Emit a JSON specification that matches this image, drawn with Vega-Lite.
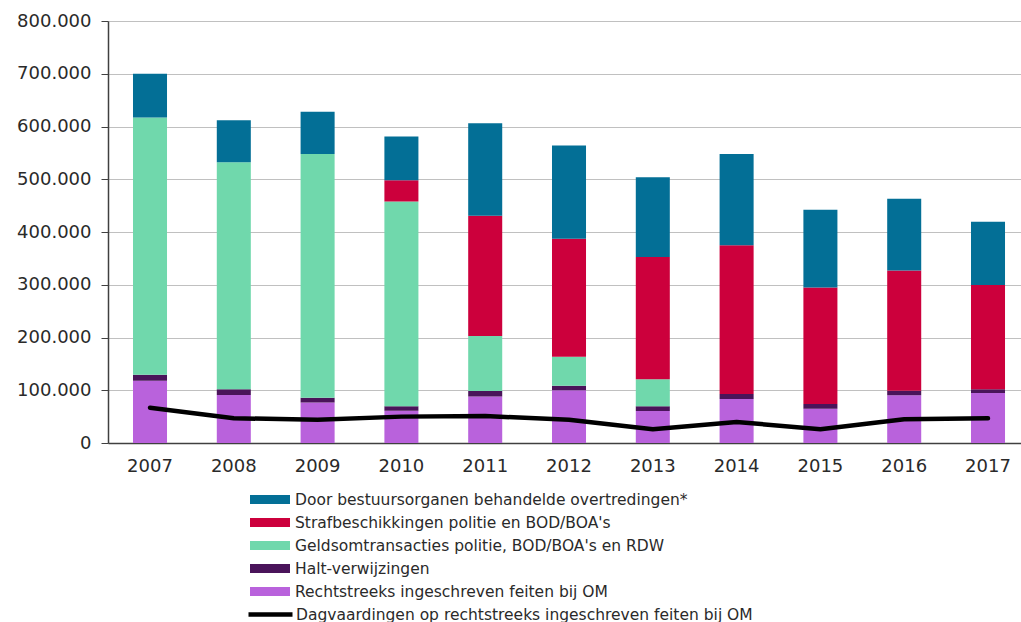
{
  "$schema": "https://vega.github.io/schema/vega-lite/v6.json",
  "width": 913,
  "height": 422,
  "autosize": {"type": "none"},
  "padding": {"left": 108, "top": 21, "right": 0, "bottom": 179},
  "background": "white",
  "config": {
    "view": {"stroke": null},
    "font": "DejaVu Sans",
    "axis": {"labelFont": "DejaVu Sans", "labelColor": "#2a2a2a", "labelFontSize": 18, "titleFontSize": 0},
    "legend": {"labelFont": "DejaVu Sans", "labelColor": "#2a2a2a", "labelFontSize": 15.5, "labelLimit": 0}
  },
  "data": {
    "values": [
      {"jaar": "2007", "serie": "Rechtstreeks ingeschreven feiten bij OM", "waarde": 118000},
      {"jaar": "2007", "serie": "Halt-verwijzingen", "waarde": 11500},
      {"jaar": "2007", "serie": "Geldsomtransacties politie, BOD/BOA's en RDW", "waarde": 487500},
      {"jaar": "2007", "serie": "Door bestuursorganen behandelde overtredingen*", "waarde": 83000},
      {"jaar": "2008", "serie": "Rechtstreeks ingeschreven feiten bij OM", "waarde": 91000},
      {"jaar": "2008", "serie": "Halt-verwijzingen", "waarde": 10700},
      {"jaar": "2008", "serie": "Geldsomtransacties politie, BOD/BOA's en RDW", "waarde": 430300},
      {"jaar": "2008", "serie": "Door bestuursorganen behandelde overtredingen*", "waarde": 80000},
      {"jaar": "2009", "serie": "Rechtstreeks ingeschreven feiten bij OM", "waarde": 77000},
      {"jaar": "2009", "serie": "Halt-verwijzingen", "waarde": 9000},
      {"jaar": "2009", "serie": "Geldsomtransacties politie, BOD/BOA's en RDW", "waarde": 462000},
      {"jaar": "2009", "serie": "Door bestuursorganen behandelde overtredingen*", "waarde": 80000},
      {"jaar": "2010", "serie": "Rechtstreeks ingeschreven feiten bij OM", "waarde": 61000},
      {"jaar": "2010", "serie": "Halt-verwijzingen", "waarde": 8500},
      {"jaar": "2010", "serie": "Geldsomtransacties politie, BOD/BOA's en RDW", "waarde": 388500},
      {"jaar": "2010", "serie": "Strafbeschikkingen politie en BOD/BOA's", "waarde": 40000},
      {"jaar": "2010", "serie": "Door bestuursorganen behandelde overtredingen*", "waarde": 83000},
      {"jaar": "2011", "serie": "Rechtstreeks ingeschreven feiten bij OM", "waarde": 88000},
      {"jaar": "2011", "serie": "Halt-verwijzingen", "waarde": 10600},
      {"jaar": "2011", "serie": "Geldsomtransacties politie, BOD/BOA's en RDW", "waarde": 104400},
      {"jaar": "2011", "serie": "Strafbeschikkingen politie en BOD/BOA's", "waarde": 228000},
      {"jaar": "2011", "serie": "Door bestuursorganen behandelde overtredingen*", "waarde": 175000},
      {"jaar": "2012", "serie": "Rechtstreeks ingeschreven feiten bij OM", "waarde": 100000},
      {"jaar": "2012", "serie": "Halt-verwijzingen", "waarde": 8600},
      {"jaar": "2012", "serie": "Geldsomtransacties politie, BOD/BOA's en RDW", "waarde": 55000},
      {"jaar": "2012", "serie": "Strafbeschikkingen politie en BOD/BOA's", "waarde": 223400},
      {"jaar": "2012", "serie": "Door bestuursorganen behandelde overtredingen*", "waarde": 177000},
      {"jaar": "2013", "serie": "Rechtstreeks ingeschreven feiten bij OM", "waarde": 60700},
      {"jaar": "2013", "serie": "Halt-verwijzingen", "waarde": 8800},
      {"jaar": "2013", "serie": "Geldsomtransacties politie, BOD/BOA's en RDW", "waarde": 51300},
      {"jaar": "2013", "serie": "Strafbeschikkingen politie en BOD/BOA's", "waarde": 231800},
      {"jaar": "2013", "serie": "Door bestuursorganen behandelde overtredingen*", "waarde": 151400},
      {"jaar": "2014", "serie": "Rechtstreeks ingeschreven feiten bij OM", "waarde": 83400},
      {"jaar": "2014", "serie": "Halt-verwijzingen", "waarde": 9600},
      {"jaar": "2014", "serie": "Strafbeschikkingen politie en BOD/BOA's", "waarde": 282000},
      {"jaar": "2014", "serie": "Door bestuursorganen behandelde overtredingen*", "waarde": 173000},
      {"jaar": "2015", "serie": "Rechtstreeks ingeschreven feiten bij OM", "waarde": 65000},
      {"jaar": "2015", "serie": "Halt-verwijzingen", "waarde": 9000},
      {"jaar": "2015", "serie": "Strafbeschikkingen politie en BOD/BOA's", "waarde": 221000},
      {"jaar": "2015", "serie": "Door bestuursorganen behandelde overtredingen*", "waarde": 147000},
      {"jaar": "2016", "serie": "Rechtstreeks ingeschreven feiten bij OM", "waarde": 90400},
      {"jaar": "2016", "serie": "Halt-verwijzingen", "waarde": 8600},
      {"jaar": "2016", "serie": "Strafbeschikkingen politie en BOD/BOA's", "waarde": 228000},
      {"jaar": "2016", "serie": "Door bestuursorganen behandelde overtredingen*", "waarde": 136000},
      {"jaar": "2017", "serie": "Rechtstreeks ingeschreven feiten bij OM", "waarde": 94800},
      {"jaar": "2017", "serie": "Halt-verwijzingen", "waarde": 6900},
      {"jaar": "2017", "serie": "Strafbeschikkingen politie en BOD/BOA's", "waarde": 197800},
      {"jaar": "2017", "serie": "Door bestuursorganen behandelde overtredingen*", "waarde": 120000},
      {"jaar": "2007", "serie": "Dagvaardingen op rechtstreeks ingeschreven feiten bij OM", "waarde": 67000},
      {"jaar": "2008", "serie": "Dagvaardingen op rechtstreeks ingeschreven feiten bij OM", "waarde": 47000},
      {"jaar": "2009", "serie": "Dagvaardingen op rechtstreeks ingeschreven feiten bij OM", "waarde": 44000},
      {"jaar": "2010", "serie": "Dagvaardingen op rechtstreeks ingeschreven feiten bij OM", "waarde": 50000},
      {"jaar": "2011", "serie": "Dagvaardingen op rechtstreeks ingeschreven feiten bij OM", "waarde": 51000},
      {"jaar": "2012", "serie": "Dagvaardingen op rechtstreeks ingeschreven feiten bij OM", "waarde": 44000},
      {"jaar": "2013", "serie": "Dagvaardingen op rechtstreeks ingeschreven feiten bij OM", "waarde": 26000},
      {"jaar": "2014", "serie": "Dagvaardingen op rechtstreeks ingeschreven feiten bij OM", "waarde": 40000},
      {"jaar": "2015", "serie": "Dagvaardingen op rechtstreeks ingeschreven feiten bij OM", "waarde": 26000},
      {"jaar": "2016", "serie": "Dagvaardingen op rechtstreeks ingeschreven feiten bij OM", "waarde": 45000},
      {"jaar": "2017", "serie": "Dagvaardingen op rechtstreeks ingeschreven feiten bij OM", "waarde": 47000}
    ]
  },
  "encoding": {
    "x": {
      "field": "jaar",
      "type": "ordinal",
      "scale": {"paddingInner": 0.594, "paddingOuter": 0.2445, "align": 0.61},
      "axis": {
        "title": null,
        "labelAngle": 0,
        "ticks": false,
        "labelPadding": 14,
        "domainColor": "#404040",
        "domainWidth": 1.5,
        "grid": false
      }
    }
  },
  "layer": [
    {
      "transform": [
        {"filter": "datum.serie != 'Dagvaardingen op rechtstreeks ingeschreven feiten bij OM'"},
        {"calculate": "indexof([\"Rechtstreeks ingeschreven feiten bij OM\", \"Halt-verwijzingen\", \"Geldsomtransacties politie, BOD/BOA's en RDW\", \"Strafbeschikkingen politie en BOD/BOA's\", \"Door bestuursorganen behandelde overtredingen*\"], datum.serie)", "as": "volgorde"}
      ],
      "mark": {"type": "bar"},
      "encoding": {
        "y": {
          "field": "waarde",
          "type": "quantitative",
          "stack": "zero",
          "scale": {"domain": [0, 800000], "nice": false},
          "axis": {
            "title": null,
            "values": [0, 100000, 200000, 300000, 400000, 500000, 600000, 700000, 800000],
            "labelExpr": "replace(format(datum.value, ','), ',', '.')",
            "tickSize": 7,
            "tickColor": "#404040",
            "labelPadding": 10,
            "domainColor": "#404040",
            "domainWidth": 1.5,
            "grid": true,
            "gridColor": "#c0c0c0",
            "gridWidth": 1.2
          }
        },
        "color": {
          "field": "serie",
          "type": "nominal",
          "scale": {
            "domain": ["Door bestuursorganen behandelde overtredingen*", "Strafbeschikkingen politie en BOD/BOA's", "Geldsomtransacties politie, BOD/BOA's en RDW", "Halt-verwijzingen", "Rechtstreeks ingeschreven feiten bij OM"],
            "range": ["#036F96", "#CC003C", "#70D8AC", "#4A145A", "#B962DC"]
          },
          "legend": {
            "title": null,
            "orient": "none",
            "legendX": 142,
            "legendY": 467,
            "symbolType": "M-1,-0.225H1V0.225H-1Z",
            "symbolSize": 1600,
            "symbolStrokeWidth": 0,
            "symbolOpacity": 1,
            "labelOffset": 5,
            "clipHeight": 23,
            "rowPadding": 0
          }
        },
        "order": {"field": "volgorde", "type": "quantitative", "sort": "ascending"}
      }
    },
    {
      "transform": [
        {"filter": "datum.serie == 'Dagvaardingen op rechtstreeks ingeschreven feiten bij OM'"}
      ],
      "mark": {"type": "line", "strokeWidth": 4.5, "strokeCap": "round", "strokeJoin": "round"},
      "encoding": {
        "y": {"field": "waarde", "type": "quantitative"},
        "stroke": {
          "field": "serie",
          "type": "nominal",
          "scale": {"range": ["#000000"]},
          "legend": {
            "title": null,
            "orient": "none",
            "legendX": 138,
            "legendY": 582,
            "symbolType": "stroke",
            "symbolSize": 1936,
            "symbolStrokeWidth": 4.5,
            "labelOffset": 1,
            "clipHeight": 23
          }
        }
      }
    }
  ]
}
